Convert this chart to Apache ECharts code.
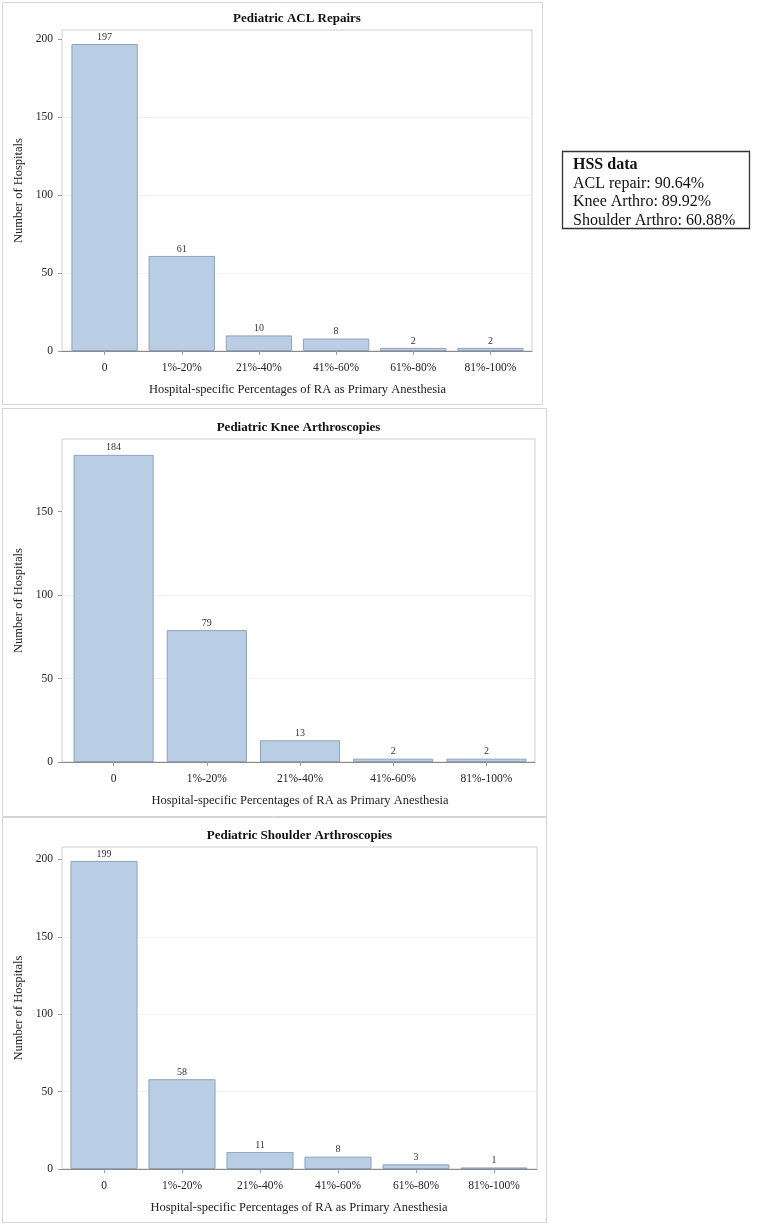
<!DOCTYPE html>
<html><head><meta charset="utf-8">
<script src="https://cdn.jsdelivr.net/npm/echarts@6/dist/echarts.min.js"></script>
<style>html,body{margin:0;padding:0;background:#fff}#c{width:762px;height:1224px}</style>
</head><body><div id="c"></div>
<script>
// ---------- data ----------
const xAxisTitle = 'Hospital-specific Percentages of RA as Primary Anesthesia';
const yAxisTitle = 'Number of Hospitals';

const aclTitle = 'Pediatric ACL Repairs';
const aclCategories = ['0', '1%-20%', '21%-40%', '41%-60%', '61%-80%', '81%-100%'];
const aclCounts = [197, 61, 10, 8, 2, 2];
const aclTicks = [0, 50, 100, 150, 200];
const aclAxisMax = 206;

const kneeTitle = 'Pediatric Knee Arthroscopies';
const kneeCategories = ['0', '1%-20%', '21%-40%', '41%-60%', '81%-100%'];
const kneeCounts = [184, 79, 13, 2, 2];
const kneeTicks = [0, 50, 100, 150];
const kneeAxisMax = 193.5;

const shoulderTitle = 'Pediatric Shoulder Arthroscopies';
const shoulderCategories = ['0', '1%-20%', '21%-40%', '41%-60%', '61%-80%', '81%-100%'];
const shoulderCounts = [199, 58, 11, 8, 3, 1];
const shoulderTicks = [0, 50, 100, 150, 200];
const shoulderAxisMax = 208;

const hssHeading = 'HSS data';
const hssLabels = ['ACL repair', 'Knee Arthro', 'Shoulder Arthro'];
const hssPercents = ['90.64%', '89.92%', '60.88%'];

// ---------- layout / style ----------
const FONT = '"Liberation Serif", "Times New Roman", serif';
const BAR_FILL = '#b9cde5';
const BAR_EDGE = '#8fa3bd';
const panels = [
  { title: aclTitle, cats: aclCategories, vals: aclCounts, ticks: aclTicks, max: aclAxisMax,
    box: [2, 2, 540, 402], frame: [62, 30, 470, 321], inset: [4, 3], titleY: 18.5 },
  { title: kneeTitle, cats: kneeCategories, vals: kneeCounts, ticks: kneeTicks, max: kneeAxisMax,
    box: [2, 408, 544, 408], frame: [62, 439, 473, 323], inset: [5, 2], titleY: 427.5 },
  { title: shoulderTitle, cats: shoulderCategories, vals: shoulderCounts, ticks: shoulderTicks, max: shoulderAxisMax,
    box: [2, 817, 544, 405], frame: [62, 847, 475, 322], inset: [3, 4], titleY: 836 }
];

const grid = [], xAxis = [], yAxis = [], series = [], graphic = [];
panels.forEach((p, i) => {
  const [fx, fy, fw, fh] = p.frame;
  const fi = 2 * i, di = 2 * i + 1;
  grid.push({ left: fx, top: fy, width: fw, height: fh, show: true, borderColor: '#cfcfcf', borderWidth: 1, containLabel: false });
  grid.push({ left: fx + p.inset[0], top: fy, width: fw - p.inset[0] - p.inset[1], height: fh, containLabel: false });
  // frame axes
  xAxis.push({ type: 'value', gridIndex: fi, min: 0, max: 1,
    axisLine: { show: true, lineStyle: { color: '#8a8a8a', width: 1 } },
    axisTick: { show: false }, axisLabel: { show: false }, splitLine: { show: false } });
  yAxis.push({ type: 'value', gridIndex: fi, min: 0, max: p.max, interval: 50,
    axisLine: { show: false },
    axisTick: { show: true, length: 4, customValues: p.ticks, lineStyle: { color: '#9a9a9a' } },
    axisLabel: { customValues: p.ticks, fontFamily: FONT, fontSize: 11.5, color: '#222', margin: 9 },
    splitLine: { show: true, showMinLine: false, showMaxLine: false, lineStyle: { color: '#f1f1f1' } },
    name: yAxisTitle, nameLocation: 'middle', nameGap: 34,
    nameTextStyle: { fontFamily: FONT, fontSize: 12.5, color: '#222' } });
  // data axes
  xAxis.push({ type: 'category', gridIndex: di, data: p.cats,
    axisLine: { show: false },
    axisTick: { show: true, alignWithLabel: true, length: 4, lineStyle: { color: '#9a9a9a' } },
    axisLabel: { fontFamily: FONT, fontSize: 11.5, color: '#222', margin: 11 },
    name: xAxisTitle, nameLocation: 'middle', nameGap: 32,
    nameTextStyle: { fontFamily: FONT, fontSize: 12.5, color: '#222' } });
  yAxis.push({ type: 'value', gridIndex: di, min: 0, max: p.max, interval: 50, show: false, splitLine: { show: false } });
  series.push({ type: 'bar', xAxisIndex: di, yAxisIndex: di, data: p.vals,
    barCategoryGap: '14%',
    itemStyle: { color: BAR_FILL, borderColor: BAR_EDGE, borderWidth: 1 },
    label: { show: true, position: 'top', distance: 2, fontFamily: FONT, fontSize: 10, color: '#333' },
    emphasis: { disabled: true }, animation: false });
  // outer box and title
  graphic.push({ type: 'rect', silent: true, z: -1,
    shape: { x: p.box[0] + 0.5, y: p.box[1] + 0.5, width: p.box[2], height: p.box[3] },
    style: { fill: 'none', stroke: '#d4d4d4', lineWidth: 1 } });
  graphic.push({ type: 'text', silent: true, x: fx + fw / 2, y: p.titleY,
    style: { text: p.title, font: 'bold 13px ' + FONT, fill: '#111', align: 'center', verticalAlign: 'middle' } });
});

// HSS box
graphic.push({ type: 'rect', silent: true,
  shape: { x: 562.5, y: 151.5, width: 187, height: 77 },
  style: { fill: '#fff', stroke: '#333', lineWidth: 1.3 } });
graphic.push({ type: 'text', silent: true, x: 573, y: 165,
  style: { text: hssHeading, font: 'bold 16px ' + FONT, fill: '#111', verticalAlign: 'middle' } });
hssLabels.forEach((lab, k) => {
  graphic.push({ type: 'text', silent: true, x: 573, y: 183.5 + k * 18.5,
    style: { text: lab + ': ' + hssPercents[k], font: '16px ' + FONT, fill: '#111', verticalAlign: 'middle' } });
});

const chart = echarts.init(document.getElementById('c'), null, { renderer: 'canvas' });
chart.setOption({ animation: false, backgroundColor: '#fff', grid, xAxis, yAxis, series, graphic });
</script></body></html>
